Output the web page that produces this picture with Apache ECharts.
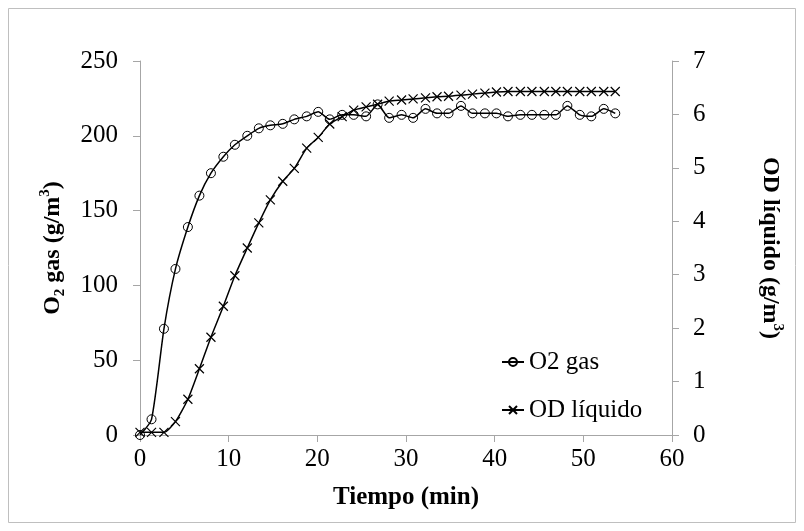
<!DOCTYPE html>
<html>
<head>
<meta charset="utf-8">
<script src="https://cdn.jsdelivr.net/npm/echarts@6/dist/echarts.min.js"></script>
<style>html,body{margin:0;padding:0;background:#fff}#c{width:804px;height:531px}</style>
</head>
<body>
<div id="c"></div>
<script>
var tiempo = [0,1.3,2.7,4.0,5.4,6.7,8.0,9.4,10.7,12.1,13.4,14.7,16.1,17.4,18.8,20.1,21.4,22.8,24.1,25.5,26.8,28.1,29.5,30.8,32.2,33.5,34.8,36.2,37.5,38.9,40.2,41.5,42.9,44.2,45.6,46.9,48.2,49.6,50.9,52.3,53.6];
var o2Gas = [0,10.5,71,111,139,160,175,186,194,200,205,207,208,211,213,216,211,214,214,213,221,212,214,212,218,215,215,220,215,215,215,213,214,214,214,214,220,214,213,218,215];
var odLiquido = [0.05,0.05,0.05,0.25,0.67,1.24,1.83,2.41,2.98,3.5,3.97,4.4,4.75,4.99,5.37,5.57,5.82,5.96,6.08,6.14,6.19,6.25,6.27,6.29,6.31,6.33,6.34,6.36,6.38,6.4,6.42,6.43,6.43,6.43,6.43,6.43,6.43,6.43,6.43,6.43,6.43];
var xTicks = [0,10,20,30,40,50,60];
var leftTicks = [0,50,100,150,200,250];
var rightTicks = [0,1,2,3,4,5,6,7];

var F = 'Liberation Serif, Times New Roman, serif';
var AX = '#a6a6a6';
function pairs(xs, ys){ return xs.map(function(x,i){ return [x, ys[i]]; }); }
var rich = {
  b: {fontFamily:F, fontWeight:'bold', fontSize:24, lineHeight:30, color:'#000'},
  sub: {fontFamily:F, fontWeight:'bold', fontSize:15, lineHeight:18, verticalAlign:'bottom', color:'#000'},
  sup: {fontFamily:F, fontWeight:'bold', fontSize:15, lineHeight:18, verticalAlign:'top', color:'#000'}
};
var chart = echarts.init(document.getElementById('c'), null, {renderer:'canvas'});
chart.setOption({
  animation:false,
  backgroundColor:'#fff',
  graphic:[{type:'rect', shape:{x:8.5,y:8.5,width:787,height:514}, style:{fill:'none', stroke:'#bfbfbf', lineWidth:1}, silent:true}],
  grid:{left:140, right:132, top:61, bottom:96, containLabel:false},
  legend:{
    orient:'vertical', left:501, top:348, padding:0, itemWidth:22, itemHeight:10, itemGap:20,
    textStyle:{fontFamily:F, fontSize:25, color:'#000', lineHeight:28},
    data:['O2 gas','OD líquido']
  },
  xAxis:{
    type:'value', min:xTicks[0], max:xTicks[xTicks.length-1], interval:10,
    name:'Tiempo (min)', nameLocation:'middle', nameGap:50,
    nameTextStyle:{fontFamily:F, fontWeight:'bold', fontSize:25, color:'#000'},
    axisLine:{show:true, lineStyle:{color:AX, width:1}},
    axisTick:{show:true, inside:false, length:7, lineStyle:{color:AX}},
    axisLabel:{fontFamily:F, fontSize:25, color:'#000', margin:12},
    splitLine:{show:false}
  },
  yAxis:[{
    type:'value', position:'left', min:leftTicks[0], max:leftTicks[leftTicks.length-1], interval:50,
    name:'{b|O}{sub|2}{b| gas (g/m}{sup|3}{b|)}', nameLocation:'middle', nameGap:72,
    nameTextStyle:{rich:rich},
    axisLine:{show:true, lineStyle:{color:AX, width:1}},
    axisTick:{show:true, inside:false, length:7, lineStyle:{color:AX}},
    axisLabel:{fontFamily:F, fontSize:25, color:'#000', margin:22},
    splitLine:{show:false}
  },{
    type:'value', position:'right', min:rightTicks[0], max:rightTicks[rightTicks.length-1], interval:1,
    name:'{b|OD líquido (g/m}{sup|3}{b|)}', nameLocation:'middle', nameGap:83, nameRotate:-90,
    nameTextStyle:{rich:rich},
    axisLine:{show:true, lineStyle:{color:AX, width:1}},
    axisTick:{show:true, inside:false, length:7, lineStyle:{color:AX}},
    axisLabel:{fontFamily:F, fontSize:25, color:'#000', margin:21},
    splitLine:{show:false}
  }],
  series:[{
    name:'O2 gas', type:'line', yAxisIndex:0, data:pairs(tiempo, o2Gas),
    smooth:0.2, symbol:'circle', symbolSize:9, showSymbol:true,
    lineStyle:{color:'#000', width:1.5},
    itemStyle:{color:'rgba(255,255,255,0)', borderColor:'#000', borderWidth:1}
  },{
    name:'OD líquido', type:'line', yAxisIndex:1, data:pairs(tiempo, odLiquido),
    smooth:0.2, symbol:'path://M0,0L10,10M10,0L0,10', symbolSize:9, showSymbol:true,
    lineStyle:{color:'#000', width:1.5},
    itemStyle:{color:'none', borderColor:'#000', borderWidth:1.2}
  }]
});
</script>
</body>
</html>
